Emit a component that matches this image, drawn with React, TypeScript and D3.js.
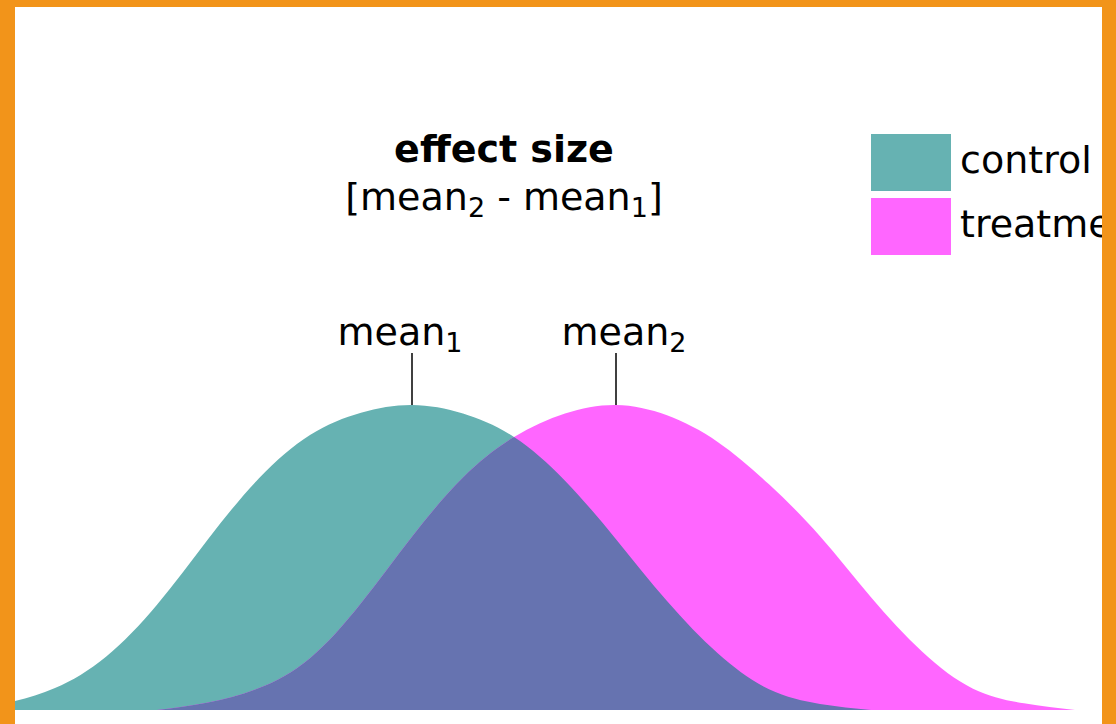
import React from 'react';
import * as d3 from 'd3';

// values on a common axis, control mean at 0, treatment mean at 2
const controlX = [-4.5, -4, -3.5, -3, -2.5, -2, -1.5, -1, -0.5, 0, 0.5, 1, 1.5, 2, 2.5, 3, 3.5, 4, 4.5];
const controlDensity = [0, 0.022, 0.072, 0.175, 0.345, 0.56, 0.76, 0.902, 0.975, 1, 0.972, 0.895, 0.752, 0.56, 0.357, 0.185, 0.068, 0.02, 0];
const treatmentX = [-2.5, -2, -1.5, -1, -0.5, 0, 0.5, 1, 1.5, 2, 2.5, 3, 3.5, 4, 4.5, 5, 5.5, 6, 6.5];
const treatmentDensity = [0, 0.025, 0.072, 0.17, 0.35, 0.568, 0.762, 0.895, 0.972, 1, 0.966, 0.878, 0.74, 0.57, 0.37, 0.192, 0.07, 0.022, 0];

const meanValues = [0, 2];
const meanSubs = ['1', '2'];
const legendLabels = ['control', 'treatment'];

const teal = '#66b2b2';
const magenta = '#ff66ff';
const overlap = '#6673b0';
const orange = '#f2941a';
const font = '"DejaVu Sans", sans-serif';

const App = () => {
  const width = 1116;
  const height = 724;
  const panel = { left: 15, top: 7, right: 1102 };

  const x = d3.scaleLinear().domain([0, 2]).range([412, 616]);
  const y = d3.scaleLinear().domain([0, 1]).range([710, 405]);

  const area = d3
    .area<[number, number]>()
    .x(d => x(d[0]))
    .y0(y(0))
    .y1(d => y(d[1]))
    .curve(d3.curveNatural);

  const control = controlX.map((v, i) => [v, controlDensity[i]] as [number, number]);
  const treatment = treatmentX.map((v, i) => [v, treatmentDensity[i]] as [number, number]);
  const controlPath = area(control) || '';
  const treatmentPath = area(treatment) || '';

  const labelDx = [-12, 8];
  const legendColors = [teal, magenta];

  return (
    <svg
      width={width}
      height={height}
      style={{ position: 'fixed', left: 0, top: 0, display: 'block' }}
      fontFamily={font}
    >
      <defs>
        <clipPath id="panelClip">
          <rect x={panel.left} y={panel.top} width={panel.right - panel.left} height={y(0) - panel.top} />
        </clipPath>
        <clipPath id="controlClip">
          <path d={controlPath} />
        </clipPath>
      </defs>
      <rect x={0} y={0} width={width} height={height} fill={orange} />
      <rect x={panel.left} y={panel.top} width={panel.right - panel.left} height={height - panel.top} fill="#ffffff" />

      <g clipPath="url(#panelClip)">
        <path d={controlPath} fill={teal} />
        <path d={treatmentPath} fill={magenta} />
        <path d={treatmentPath} fill={overlap} clipPath="url(#controlClip)" />

        {meanValues.map((m, i) => (
          <g key={i}>
            <line x1={x(m)} x2={x(m)} y1={353} y2={y(1)} stroke="#000" strokeWidth={1.5} />
            <text x={x(m) + labelDx[i]} y={345} fontSize={38} textAnchor="middle" fill="#000">
              mean
              <tspan fontSize={27} dy={7}>{meanSubs[i]}</tspan>
            </text>
          </g>
        ))}

        <text x={504} y={162} fontSize={38} fontWeight="bold" textAnchor="middle" fill="#000">
          effect size
        </text>
        <text x={504} y={210} fontSize={38} textAnchor="middle" fill="#000">
          [mean
          <tspan fontSize={27} dy={7}>2</tspan>
          <tspan dy={-7}> - mean</tspan>
          <tspan fontSize={27} dy={7}>1</tspan>
          <tspan dy={-7}>]</tspan>
        </text>

        {legendLabels.map((lab, i) => (
          <g key={lab} transform={`translate(871,${134 + i * 64})`}>
            <rect width={80} height={57} fill={legendColors[i]} />
            <text x={89} y={39} fontSize={38} fill="#000">
              {lab}
            </text>
          </g>
        ))}
      </g>
    </svg>
  );
};

export default App;
